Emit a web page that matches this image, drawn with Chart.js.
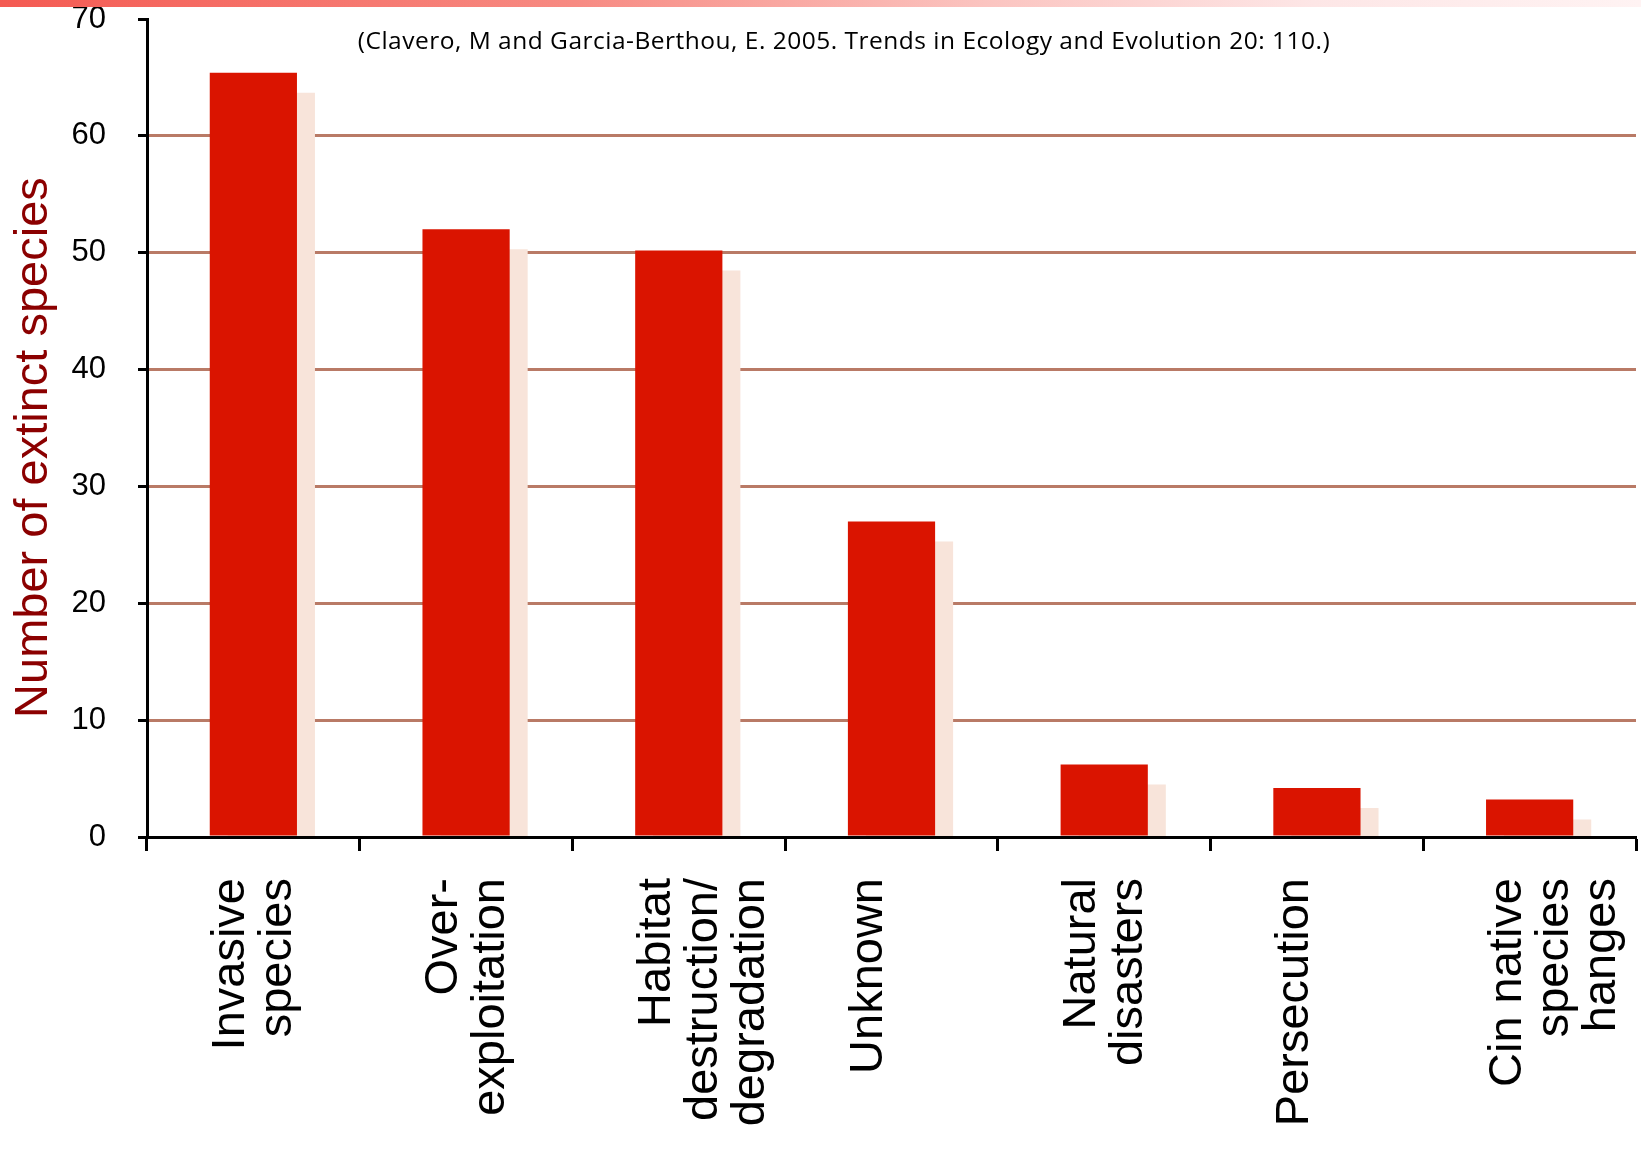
<!DOCTYPE html>
<html>
<head>
<meta charset="utf-8">
<script src="https://cdn.jsdelivr.net/npm/chart.js@4.4.1/dist/chart.umd.min.js"></script>
<style>
    body { margin: 0; background: #ffffff; }
    #wrap { position: relative; width: 1641px; height: 1151px; overflow: hidden; }
    #strip { position: absolute; left: 0; top: 0; width: 100%; height: 7px;
        background: linear-gradient(to right, #f45a52 0%, #f78a82 35%, #fbc4c0 60%, #fde6e6 80%, #fff3f3 100%); }
    #cite { position: absolute; top: 23px; left: 0; width: 1688px; text-align: center;
        font-family: "Open Sans", sans-serif; font-size: 24.5px; letter-spacing: 0.5px; color: #000; }
</style>
</head>
<body>
<div id="wrap">
    <canvas id="barChart" width="1641" height="1151"></canvas>
    <div id="strip"></div>
    <div id="cite">(Clavero, M and Garcia-Berthou, E. 2005. Trends in Ecology and Evolution 20: 110.)</div>
</div>
<script>
// causes of extinction (counts)
const causes = [
    ['Invasive', 'species'],
    ['Over-', 'exploitation'],
    ['Habitat', 'destruction/', 'degradation'],
    'Unknown',
    ['Natural', 'disasters'],
    'Persecution',
    ['Cin native', 'species', 'hanges']
];
const extinctCounts = [65.4, 52.0, 50.2, 27.0, 6.2, 4.2, 3.2];
const yTicks = [0, 10, 20, 30, 40, 50, 60, 70];

const FONT = '"Liberation Sans", Arial, sans-serif';

// flat pink drop shadow behind each bar (the 3-D look of the original slide)
const barShadow = {
    id: 'barShadow',
    beforeDatasetDraw(chart, args, opts) {
        const ctx = chart.ctx;
        ctx.save();
        ctx.shadowColor = opts.color;
        ctx.shadowOffsetX = opts.offsetX;
        ctx.shadowOffsetY = opts.offsetY;
        ctx.shadowBlur = 0;
    },
    afterDatasetDraw(chart) {
        chart.ctx.restore();
    }
};

new Chart(document.getElementById('barChart'), {
    type: 'bar',
    data: {
        labels: causes,
        datasets: [{
            data: extinctCounts,
            backgroundColor: '#da1400',
            borderWidth: 0,
            categoryPercentage: 1,
            barPercentage: 0.41,
            clip: 0
        }]
    },
    plugins: [barShadow],
    options: {
        responsive: false,
        animation: false,
        layout: { padding: { top: 19, right: 5, left: 0, bottom: 0 } },
        plugins: {
            legend: { display: false },
            tooltip: { enabled: false },
            barShadow: { color: '#f8e4da', offsetX: 18, offsetY: 20 }
        },
        scales: {
            x: {
                afterFit: (scale) => {
                    scale.height = 314;
                    scale.paddingLeft = 0;
                    scale.paddingRight = 0;
                },
                grid: {
                    offset: true,
                    drawOnChartArea: false,
                    drawTicks: true,
                    tickLength: 14,
                    tickWidth: 3,
                    tickColor: '#000'
                },
                border: { display: true, color: '#000', width: 3, z: 1 },
                ticks: {
                    minRotation: 90,
                    maxRotation: 90,
                    autoSkip: false,
                    padding: 27,
                    labelOffset: -22,
                    color: '#000',
                    font: { family: FONT, size: 47, lineHeight: 1.0 }
                }
            },
            y: {
                min: 0,
                max: 70,
                afterFit: (scale) => {
                    scale.width = 147;
                    scale.paddingTop = 0;
                    scale.paddingBottom = 0;
                },
                afterBuildTicks: (scale) => { scale.ticks = yTicks.map(v => ({ value: v })); },
                grid: {
                    color: (c) => (c.tick && (c.tick.value === 0 || c.tick.value === 70)) ? 'rgba(0,0,0,0)' : '#b97a66',
                    lineWidth: 3,
                    drawTicks: true,
                    tickLength: 9,
                    tickWidth: 3,
                    tickColor: '#000'
                },
                border: { display: true, color: '#000', width: 3, z: 1 },
                ticks: {
                    padding: 32,
                    color: '#000',
                    font: { family: FONT, size: 31 }
                },
                title: {
                    display: true,
                    // trailing spaces nudge the rotated title a little lower, as on the slide
                    text: 'Number of extinct species   ',
                    color: '#8b0000',
                    padding: { top: 11, bottom: 0 },
                    font: { family: FONT, size: 47, lineHeight: 1.0 }
                }
            }
        }
    }
});
</script>
</body>
</html>
